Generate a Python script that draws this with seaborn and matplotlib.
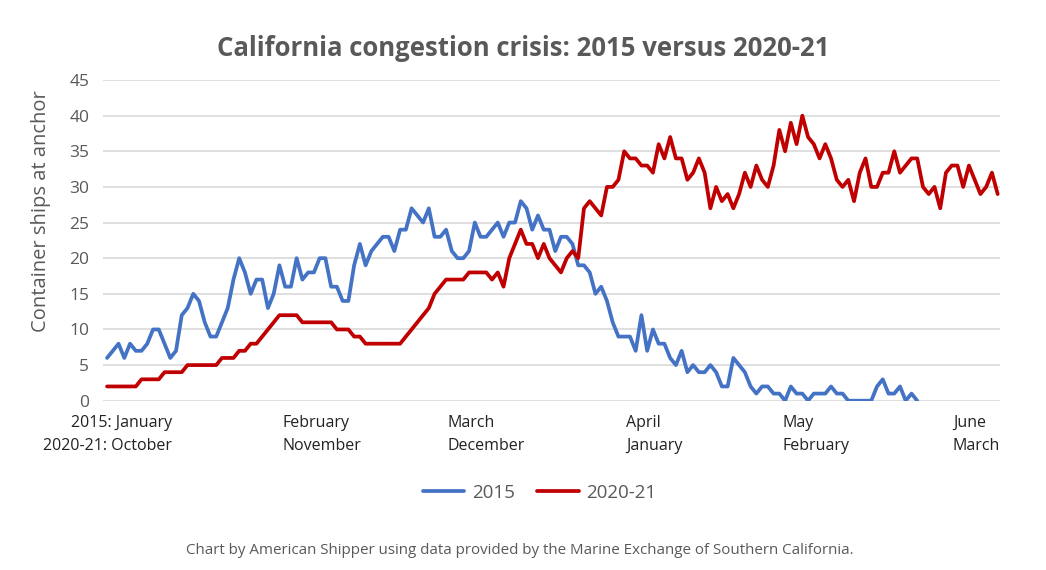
import matplotlib
matplotlib.use('Agg')
import matplotlib.pyplot as plt
import pandas as pd
import seaborn as sns

# Daily ships at anchor (2015 run stops before the end)
ships_2015 = [6, 7, 8, 6, 8, 7, 7, 8, 10, 10,
              8, 6, 7, 12, 13, 15, 14, 11, 9, 9,
              11, 13, 17, 20, 18, 15, 17, 17, 13, 15,
              19, 16, 16, 20, 17, 18, 18, 20, 20, 16,
              16, 14, 14, 19, 22, 19, 21, 22, 23, 23,
              21, 24, 24, 27, 26, 25, 27, 23, 23, 24,
              21, 20, 20, 21, 25, 23, 23, 24, 25, 23,
              25, 25, 28, 27, 24, 26, 24, 24, 21, 23,
              23, 22, 19, 19, 18, 15, 16, 14, 11, 9,
              9, 9, 7, 12, 7, 10, 8, 8, 6, 5,
              7, 4, 5, 4, 4, 5, 4, 2, 2, 6,
              5, 4, 2, 1, 2, 2, 1, 1, 0, 2,
              1, 1, 0, 1, 1, 1, 2, 1, 1, 0,
              0, 0, 0, 0, 2, 3, 1, 1, 2, 0,
              1, 0]
ships_2020_21 = [2, 2, 2, 2, 2, 2, 3, 3, 3, 3,
                 4, 4, 4, 4, 5, 5, 5, 5, 5, 5,
                 6, 6, 6, 7, 7, 8, 8, 9, 10, 11,
                 12, 12, 12, 12, 11, 11, 11, 11, 11, 11,
                 10, 10, 10, 9, 9, 8, 8, 8, 8, 8,
                 8, 8, 9, 10, 11, 12, 13, 15, 16, 17,
                 17, 17, 17, 18, 18, 18, 18, 17, 18, 16,
                 20, 22, 24, 22, 22, 20, 22, 20, 19, 18,
                 20, 21, 20, 27, 28, 27, 26, 30, 30, 31,
                 35, 34, 34, 33, 33, 32, 36, 34, 37, 34,
                 34, 31, 32, 34, 32, 27, 30, 28, 29, 27,
                 29, 32, 30, 33, 31, 30, 33, 38, 35, 39,
                 36, 40, 37, 36, 34, 36, 34, 31, 30, 31,
                 28, 32, 34, 30, 30, 32, 32, 35, 32, 33,
                 34, 34, 30, 29, 30, 27, 32, 33, 33, 30,
                 33, 31, 29, 30, 32, 29]

month_labels = ['February\nNovember', 'March\nDecember', 'April\nJanuary',
                'May\nFebruary', 'June\nMarch']
month_days = [30.6, 59.2, 90.3, 117.6, 147.2]
first_label = '2015: January\n2020-21: October'

df = pd.concat([
    pd.DataFrame({'day': range(len(ships_2015)), 'ships': ships_2015, 'series': '2015'}),
    pd.DataFrame({'day': range(len(ships_2020_21)), 'ships': ships_2020_21, 'series': '2020-21'}),
])

sns.set_style('white')
plt.rcParams['font.family'] = ['Open Sans', 'DejaVu Sans']

grey = '#595959'
fig = plt.figure(figsize=(10.46, 5.70), dpi=100)
ax = fig.add_axes([0.0985, 0.297, 0.8575, 0.5626])

sns.lineplot(data=df, x='day', y='ships', hue='series',
             palette={'2015': '#4472C4', '2020-21': '#C00000'},
             linewidth=2.7, ax=ax)

ax.set_xlim(-0.7, 155.4)
ax.set_ylim(0, 45)
ax.set_yticks(range(0, 50, 5))
ax.yaxis.grid(True, color='#d9d9d9', linewidth=1.2)
ax.set_axisbelow(True)
for s in ax.spines.values():
    s.set_visible(False)
ax.tick_params(axis='y', labelsize=12.5, labelcolor=grey, length=0, pad=10)
ax.set_xticks([])
ax.set_xlabel('')
ax.set_ylabel('Container ships at anchor', fontsize=14.5, color=grey)
ax.yaxis.set_label_coords(-0.058, 0.59)

# two-line month labels, left aligned at month start
trans = ax.get_xaxis_transform()
for d, lab in zip(month_days, month_labels):
    ax.text(d, -0.045, lab, transform=trans, ha='left', va='top',
            fontsize=11.5, color='#222222', linespacing=1.55)
ax.text(11.3, -0.045, first_label, transform=trans, ha='right', va='top',
        multialignment='right', fontsize=11.5, color='#222222', linespacing=1.55)

fig.text(0.5, 0.915, 'California congestion crisis: 2015 versus 2020-21',
         ha='center', va='center', fontsize=18.5, fontweight='bold', color=grey)

sns.move_legend(ax, 'center', bbox_to_anchor=(0.516, 0.135),
                bbox_transform=fig.transFigure, ncol=2, frameon=False, title=None,
                fontsize=13.5, handlelength=2.2, columnspacing=1.2, handletextpad=0.4)
for t in ax.get_legend().get_texts():
    t.set_color(grey)

fig.text(0.497, 0.035,
         'Chart by American Shipper using data provided by the Marine Exchange of Southern California.',
         ha='center', va='center', fontsize=10.9, color=grey)

fig.savefig('out.png', dpi=100)
